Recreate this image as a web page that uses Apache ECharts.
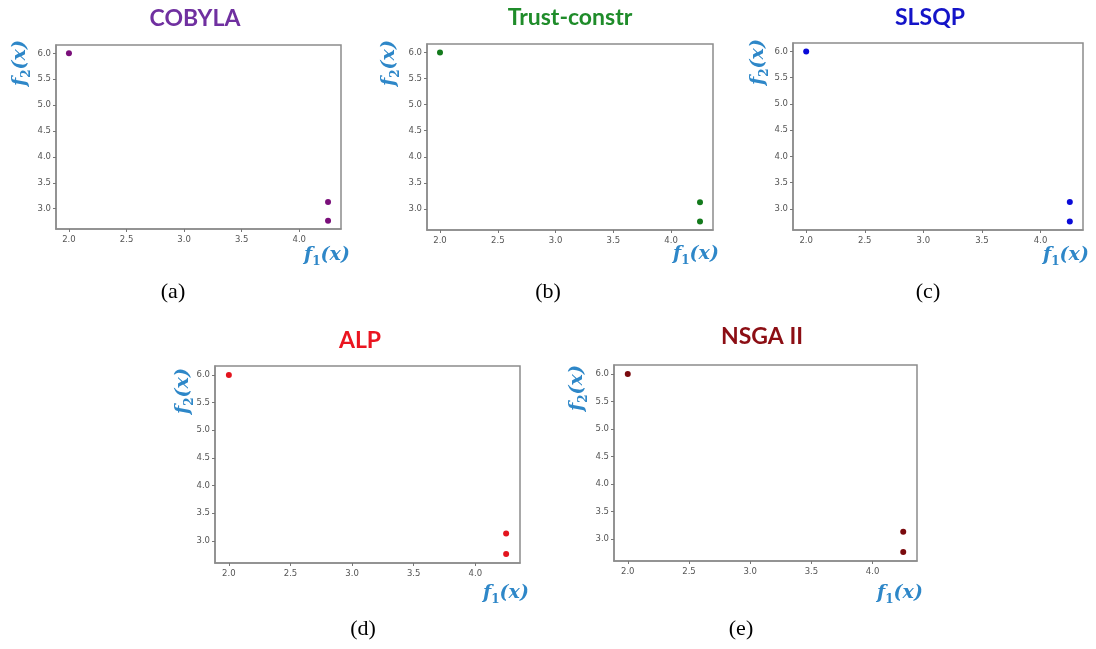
<!DOCTYPE html>
<html>
<head>
<meta charset="utf-8">
<title>Pareto fronts by solver</title>
<script src="https://cdn.jsdelivr.net/npm/echarts@6/dist/echarts.min.js"></script>
<style>
  html, body { margin: 0; padding: 0; background: #ffffff; }
  #chart { width: 1096px; height: 649px; }
</style>
</head>
<body>
<div id="chart"></div>
<script>
// Solver names and panel captions
const methods = ['COBYLA', 'Trust-constr', 'SLSQP', 'ALP', 'NSGA II'];
const captions = ['(a)', '(b)', '(c)', '(d)', '(e)'];

// Objective values found by each solver
const f1Cobyla = [2.0, 4.25, 4.25];
const f2Cobyla = [6.0, 3.13, 2.77];
const f1Trust = [2.0, 4.25, 4.25];
const f2Trust = [6.0, 3.13, 2.76];
const f1Slsqp = [2.0, 4.25, 4.25];
const f2Slsqp = [6.0, 3.13, 2.76];
const f1Alp = [2.0, 4.25, 4.25];
const f2Alp = [6.0, 3.13, 2.76];
const f1Nsga = [2.0, 4.25, 4.25];
const f2Nsga = [6.0, 3.13, 2.76];

// Tick labels
const xTicks = [2.0, 2.5, 3.0, 3.5, 4.0];
const yTicks = [3.0, 3.5, 4.0, 4.5, 5.0, 5.5, 6.0];

const f1Sets = [f1Cobyla, f1Trust, f1Slsqp, f1Alp, f1Nsga];
const f2Sets = [f2Cobyla, f2Trust, f2Slsqp, f2Alp, f2Nsga];

// Panel styling and placement
const titleColors = ['#7030a0', '#1f8c2a', '#1414c8', '#ea1520', '#8c0e14'];
const markerColors = ['#7a0f7a', '#137a1c', '#0a0ad8', '#e3141e', '#7a0a0e'];
const grids = [
  { left: 56, top: 45, width: 285, height: 184 },
  { left: 427, top: 44, width: 286, height: 186 },
  { left: 793, top: 43, width: 290, height: 187 },
  { left: 215, top: 366, width: 305, height: 197 },
  { left: 614, top: 365, width: 303, height: 196 }
];
const titlePos = [[195, 19], [570, 18], [930, 18], [360, 341], [762, 337]];
const captionPos = [[173, 292], [548, 292], [928, 292], [363, 629], [741, 629]];
const xNamePos = [[327, 255], [696, 254], [1066, 255], [506, 593], [900, 593]];
const yNamePos = [[20, 63], [389, 63], [758, 62], [183, 391], [577, 388]];

// Axis ranges padded 5% around the data, as in the original plotting tool
function padded(arrs) {
  let lo = Infinity, hi = -Infinity;
  arrs.forEach(a => a.forEach(v => { lo = Math.min(lo, v); hi = Math.max(hi, v); }));
  const m = (hi - lo) * 0.05;
  return [lo - m, hi + m];
}

const labelBlue = '#2e87c8';
const mathFont = '"DejaVu Serif", serif';
function axisRich(base) {
  const sub = Math.round(base * 0.62);
  return {
    f: { fontFamily: mathFont, fontStyle: 'italic', fontWeight: 'bold', fontSize: base, fill: labelBlue, lineHeight: base + 6, verticalAlign: 'middle' },
    s: { fontFamily: mathFont, fontWeight: 'bold', fontSize: sub, fill: labelBlue, lineHeight: sub + 2, verticalAlign: 'bottom' },
    p: { fontFamily: mathFont, fontStyle: 'italic', fontWeight: 'bold', fontSize: base, fill: labelBlue, lineHeight: base + 6, verticalAlign: 'middle' }
  };
}

const option = {
  backgroundColor: '#ffffff',
  animation: false,
  grid: [],
  xAxis: [],
  yAxis: [],
  series: [],
  graphic: []
};

methods.forEach((name, i) => {
  const xr = padded([f1Sets[i]]);
  const yr = padded([f2Sets[i]]);
  option.grid.push(Object.assign({
    show: true, borderColor: '#8c8c8c', borderWidth: 1.5, backgroundColor: '#ffffff', containLabel: false
  }, grids[i]));
  option.xAxis.push({
    type: 'value', gridIndex: i, min: xr[0], max: xr[1],
    splitLine: { show: false },
    axisLine: { show: true, onZero: false, lineStyle: { color: '#8c8c8c', width: 1.5 } },
    axisTick: { show: true, customValues: xTicks, length: 3, lineStyle: { color: '#777' } },
    axisLabel: { customValues: xTicks, formatter: v => v.toFixed(1), fontSize: 8.5, color: '#555', margin: 6, fontFamily: 'DejaVu Sans' }
  });
  option.yAxis.push({
    type: 'value', gridIndex: i, min: yr[0], max: yr[1],
    splitLine: { show: false },
    axisLine: { show: true, onZero: false, lineStyle: { color: '#8c8c8c', width: 1.5 } },
    axisTick: { show: true, customValues: yTicks, length: 3, lineStyle: { color: '#777' } },
    axisLabel: { customValues: yTicks, formatter: v => v.toFixed(1), fontSize: 8.5, color: '#555', margin: 5, fontFamily: 'DejaVu Sans' }
  });
  option.series.push({
    type: 'scatter', name: name, xAxisIndex: i, yAxisIndex: i,
    symbolSize: 6,
    itemStyle: { color: markerColors[i], opacity: 1 },
    data: f1Sets[i].map((v, k) => [v, f2Sets[i][k]])
  });

  // Panel title
  option.graphic.push({
    type: 'text', x: titlePos[i][0], y: titlePos[i][1],
    style: { text: name, fill: titleColors[i], font: 'bold 23px Lato, "Open Sans", sans-serif', textAlign: 'center', textVerticalAlign: 'middle' }
  });
  // Panel caption
  option.graphic.push({
    type: 'text', x: captionPos[i][0], y: captionPos[i][1],
    style: { text: captions[i], fill: '#000000', font: '22px "Liberation Serif", "Times New Roman", serif', textAlign: 'center', textVerticalAlign: 'middle' }
  });
  // Axis names f1(x) and f2(x)
  option.graphic.push({
    type: 'text', x: xNamePos[i][0], y: xNamePos[i][1],
    style: { text: '{f|f}{s|1}{p|(x)}', rich: axisRich(19), fill: labelBlue, textAlign: 'center', textVerticalAlign: 'middle' }
  });
  option.graphic.push({
    type: 'text', x: yNamePos[i][0], y: yNamePos[i][1], rotation: Math.PI / 2,
    style: { text: '{f|f}{s|2}{p|(x)}', rich: axisRich(19), fill: labelBlue, textAlign: 'center', textVerticalAlign: 'middle' }
  });
});

const chart = echarts.init(document.getElementById('chart'), null, { renderer: 'canvas' });
chart.setOption(option);
</script>
</body>
</html>
